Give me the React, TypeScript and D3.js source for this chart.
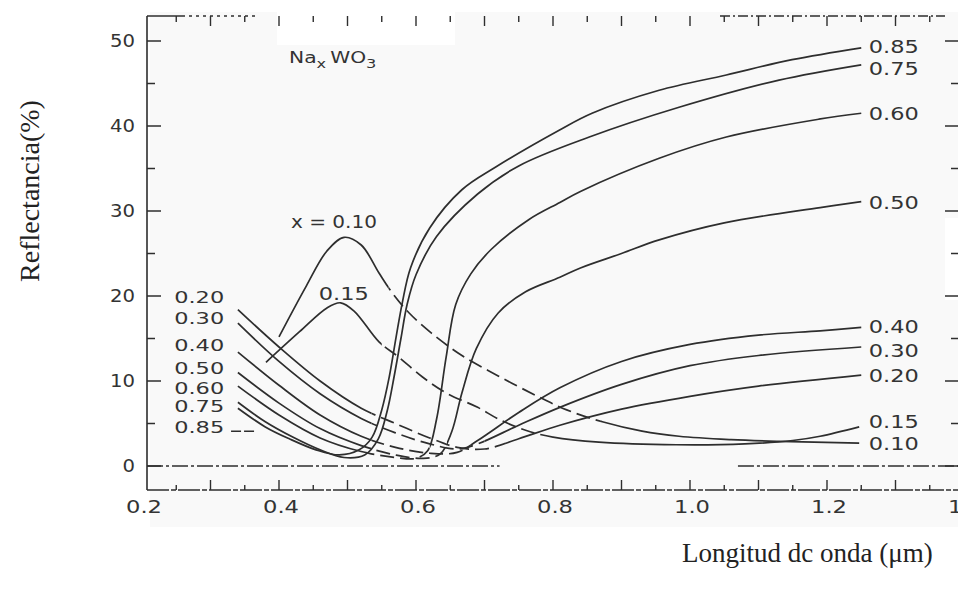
import React, { useEffect } from 'react';
import * as d3 from 'd3';

const W = 958;
const H = 595;

// ---- axis ticks / labels ----
const xTickLabels = [0.2, 0.4, 0.6, 0.8, 1.0, 1.2, 1.4];
const yTickLabels = [0, 10, 20, 30, 40, 50];
const xTitle = 'Longitud dc onda (\u03bcm)';
const yTitle = 'Reflectancia(%)';

// ---- series data: [wavelength µm, reflectance %] ----
const s010: [number, number][] = [[0.40, 15.2], [0.44, 21.2], [0.47, 25.3], [0.495, 26.9], [0.52, 26.0], [0.546, 22.7], [0.565, 20.4], [0.59, 18.0], [0.623, 15.6], [0.667, 13.0], [0.72, 10.6], [0.775, 8.3], [0.82, 6.6], [0.872, 5.2], [0.93, 4.1], [0.984, 3.5], [1.06, 3.1], [1.13, 2.9], [1.247, 2.7]];
const s015: [number, number][] = [[0.381, 12.2], [0.43, 15.8], [0.47, 18.6], [0.49, 19.2], [0.51, 18.2], [0.546, 14.6], [0.575, 12.8], [0.609, 10.5], [0.644, 8.6], [0.69, 6.9], [0.721, 5.5], [0.76, 4.2], [0.8, 3.4], [0.867, 2.8], [0.98, 2.5], [1.08, 2.6], [1.15, 3.0], [1.19, 3.5], [1.247, 4.6]];
const s020: [number, number][] = [[0.34, 18.4], [0.40, 14.0], [0.46, 10.0], [0.52, 6.8], [0.57, 5.0], [0.62, 3.3], [0.66, 2.2], [0.70, 2.0], [0.75, 3.2], [0.81, 4.8], [0.9, 6.7], [1.0, 8.2], [1.1, 9.4], [1.25, 10.7]];
const s030: [number, number][] = [[0.34, 16.8], [0.40, 12.3], [0.46, 8.5], [0.52, 5.6], [0.57, 3.9], [0.62, 2.6], [0.66, 2.0], [0.69, 2.6], [0.75, 4.8], [0.81, 6.9], [0.9, 9.6], [1.0, 11.8], [1.1, 13.0], [1.25, 14.0]];
const s040: [number, number][] = [[0.34, 13.4], [0.40, 9.5], [0.46, 6.0], [0.52, 3.5], [0.57, 2.2], [0.62, 1.5], [0.66, 1.6], [0.69, 3.0], [0.75, 6.3], [0.81, 9.2], [0.9, 12.3], [1.0, 14.3], [1.1, 15.4], [1.19, 15.9], [1.25, 16.3]];
const s050: [number, number][] = [[0.34, 11.0], [0.40, 7.4], [0.46, 4.4], [0.52, 2.4], [0.57, 1.3], [0.61, 0.9], [0.635, 1.4], [0.652, 4.0], [0.667, 8.6], [0.688, 13.8], [0.72, 18.0], [0.76, 20.5], [0.81, 22.2], [0.84, 23.3], [0.9, 25.0], [0.955, 26.6], [1.05, 28.6], [1.19, 30.4], [1.25, 31.1]];
const s060: [number, number][] = [[0.34, 9.4], [0.40, 6.0], [0.46, 3.3], [0.52, 1.7], [0.57, 1.0], [0.60, 0.9], [0.617, 1.8], [0.63, 5.5], [0.644, 12.8], [0.658, 19.0], [0.68, 22.6], [0.71, 25.5], [0.765, 29.0], [0.81, 31.0], [0.84, 32.3], [0.955, 36.2], [1.053, 38.7], [1.188, 40.8], [1.25, 41.5]];
const s075: [number, number][] = [[0.34, 7.5], [0.38, 5.2], [0.42, 3.4], [0.46, 1.9], [0.495, 1.0], [0.525, 1.3], [0.545, 3.2], [0.558, 6.5], [0.568, 10.5], [0.578, 15.0], [0.587, 19.0], [0.6, 22.5], [0.63, 27.0], [0.69, 32.0], [0.75, 35.3], [0.853, 38.7], [0.984, 42.2], [1.13, 45.4], [1.25, 47.2]];
const s085: [number, number][] = [[0.34, 6.8], [0.38, 4.6], [0.415, 3.2], [0.454, 1.9], [0.488, 1.3], [0.517, 1.9], [0.536, 3.4], [0.55, 6.6], [0.561, 10.5], [0.571, 15.2], [0.58, 19.2], [0.592, 23.3], [0.62, 28.0], [0.667, 32.5], [0.717, 35.2], [0.809, 39.5], [0.857, 41.5], [0.955, 44.2], [1.053, 46.0], [1.149, 47.8], [1.25, 49.2]];

const seriesNames = ['0.10', '0.15', '0.20', '0.30', '0.40', '0.50', '0.60', '0.75', '0.85'];
const seriesData = [s010, s015, s020, s030, s040, s050, s060, s075, s085];
// wavelength span (µm) where each curve is drawn dashed
const dashSpans: ([number, number] | null)[] = [[0.56, 0.87], [0.55, 0.80], [0.535, 0.73], [0.535, 0.70], [0.535, 0.68], [0.535, 0.645], [0.53, 0.62], null, null];

// ---- annotation labels: [text, %] and positions in µm ----
const rightLabels: [string, number][] = [['0.85', 49.35], ['0.75', 46.8], ['0.60', 41.5], ['0.50', 31.0], ['0.40', 16.4], ['0.30', 13.6], ['0.20', 10.7], ['0.15', 5.2], ['0.10', 2.6]];
const leftLabels: [string, number][] = [['0.20', 19.9], ['0.30', 17.4], ['0.40', 14.2], ['0.50', 11.5], ['0.60', 9.2], ['0.75', 7.0], ['0.85', 4.6]];
const rightLabelX = 1.261;
const leftLabelX = 0.247;
const peakLabels: [string, number, number][] = [['x = 0.10', 0.4175, 28.8], ['0.15', 0.458, 20.3]];
const pointerDash: [number, number][] = [[0.33, 4.1], [0.366, 4.1]];
const compoundPos: [number, number] = [0.4146, 48.1];

const FR = { left: 147, top: 16, bottom: 490, right: 958 };
const INK = '#2e2e2e';
const TXT = '#333';

function labelWidth(s: string, digit = 14, dot = 8, space = 6, other = 12) {
  let w = 0;
  for (const c of s) {
    if (c >= '0' && c <= '9') w += digit;
    else if (c === '.') w += dot;
    else if (c === ' ') w += space;
    else w += other;
  }
  return w;
}

export default function App() {
  useEffect(() => {
    document.body.style.margin = '0';
    document.body.style.background = '#fff';
  }, []);

  const xS = d3.scaleLinear().domain([0.2, 1.4]).range([142, 964]);
  const yS = d3.scaleLinear().domain([0, 50]).range([466, 41]);
  const line = d3
    .line<[number, number]>()
    .x((d) => xS(d[0]))
    .y((d) => yS(d[1]))
    .curve(d3.curveCatmullRom.alpha(0.5));

  const minorX = d3.range(0.25, 1.401, 0.05);
  const minorY = d3.range(0, 50.01, 5);
  const isMajorX = (v: number) => Math.abs(Math.round(v * 10) - v * 10) < 1e-6;
  const isMajorY = (v: number) => Math.round(v) % 10 === 0;

  const sans = '"DejaVu Sans", "Liberation Sans", sans-serif';
  const serif = '"Liberation Serif", "DejaVu Serif", serif';

  return (
    <svg width={W} height={H} style={{ position: 'absolute', left: 0, top: 0, display: 'block' }} xmlns="http://www.w3.org/2000/svg">
      <rect x={0} y={0} width={W} height={H} fill="#ffffff" />
      {/* scanned area tint */}
      <rect x={150} y={12} width={W - 150} height={515} fill="#f9f9f9" />
      <rect x={277} y={0} width={178} height={45} fill="#ffffff" />
      <rect x={945} y={218} width={13} height={82} fill="#ffffff" />

      <defs>
        {seriesNames.map((n, i) => {
          const sp = dashSpans[i];
          if (!sp) return null;
          return (
            <g key={n}>
              <clipPath id={`solid-${i}`}>
                <rect x={0} y={0} width={xS(sp[0])} height={H} />
                <rect x={xS(sp[1])} y={0} width={W - xS(sp[1])} height={H} />
              </clipPath>
              <clipPath id={`dash-${i}`}>
                <rect x={xS(sp[0])} y={0} width={xS(sp[1]) - xS(sp[0])} height={H} />
              </clipPath>
            </g>
          );
        })}
      </defs>

      {/* frame: left axis */}
      <line x1={FR.left} x2={FR.left} y1={FR.top} y2={FR.bottom} stroke={INK} strokeWidth={1.6} />
      {/* bottom axis */}
      <line x1={FR.left} x2={FR.right} y1={FR.bottom} y2={FR.bottom} stroke={INK} strokeWidth={1.4} strokeDasharray="22 2 5 2" />
      {/* top axis (broken scan) */}
      <line x1={FR.left} x2={182} y1={FR.top} y2={FR.top} stroke={INK} strokeWidth={1.6} />
      <line x1={182} x2={255} y1={FR.top} y2={FR.top} stroke={INK} strokeWidth={1.3} strokeDasharray="3 4" />
      <line x1={720} x2={945} y1={FR.top} y2={FR.top} stroke={INK} strokeWidth={1.3} strokeDasharray="10 3 2 3" />

      {/* x ticks bottom and top */}
      {minorX.map((v) => {
        const maj = isMajorX(v);
        const x = xS(v);
        return (
          <g key={`xt${v}`} stroke={INK} strokeWidth={1.4}>
            <line x1={x} x2={x} y1={FR.bottom} y2={FR.bottom - (maj ? 10 : 5)} />
            {x < FR.right - 4 && <line x1={x} x2={x} y1={FR.top} y2={FR.top + (maj ? 10 : 6)} />}
          </g>
        );
      })}
      {/* y ticks left and right */}
      {minorY.map((v) => {
        const maj = isMajorY(v);
        const y = yS(v);
        return (
          <g key={`yt${v}`} stroke={INK} strokeWidth={1.5}>
            <line x1={FR.left} x2={FR.left + (maj ? 14 : 8)} y1={y} y2={y} />
            <line x1={FR.right} x2={FR.right - (maj ? 13 : 7)} y1={y} y2={y} />
          </g>
        );
      })}

      {/* zero reference line */}
      <line x1={FR.left} x2={xS(0.722)} y1={yS(0)} y2={yS(0)} stroke={INK} strokeWidth={1.3} strokeDasharray="16 3 3 3" />
      <line x1={xS(1.07)} x2={FR.right} y1={yS(0)} y2={yS(0)} stroke={INK} strokeWidth={1.3} strokeDasharray="16 3 3 3" />

      {/* tick labels */}
      {xTickLabels.map((v) => {
        const s = v.toFixed(1);
        return (
          <text key={`xl${v}`} x={xS(v) + 2} y={507} dy="0.36em" textAnchor="middle" fontFamily={sans} fontSize={18} fill={TXT} textLength={labelWidth(s)} lengthAdjust="spacingAndGlyphs">
            {s}
          </text>
        );
      })}
      {yTickLabels.map((v) => {
        const s = String(v);
        return (
          <text key={`yl${v}`} x={135} y={yS(v)} dy="0.36em" textAnchor="end" fontFamily={sans} fontSize={17} fill={TXT} textLength={labelWidth(s, 12.5)} lengthAdjust="spacingAndGlyphs">
            {s}
          </text>
        );
      })}

      {/* curves */}
      {seriesNames.map((n, i) => {
        const d = line(seriesData[i]) || '';
        const sp = dashSpans[i];
        if (!sp) {
          return <path key={n} d={d} fill="none" stroke={INK} strokeWidth={1.7} />;
        }
        return (
          <g key={n}>
            <path d={d} fill="none" stroke={INK} strokeWidth={1.7} clipPath={`url(#solid-${i})`} />
            <path d={d} fill="none" stroke={INK} strokeWidth={1.7} strokeDasharray="14 6" clipPath={`url(#dash-${i})`} />
          </g>
        );
      })}

      {/* pointer dash for left 0.85 label */}
      <line x1={xS(pointerDash[0][0])} x2={xS(pointerDash[1][0])} y1={yS(pointerDash[0][1])} y2={yS(pointerDash[1][1])} stroke={INK} strokeWidth={1.5} strokeDasharray="10 3" />

      {/* curve labels */}
      {rightLabels.map(([s, v]) => (
        <text key={`r${s}`} x={xS(rightLabelX)} y={yS(v)} dy="0.36em" fontFamily={sans} fontSize={18} fill={TXT} textLength={labelWidth(s)} lengthAdjust="spacingAndGlyphs">
          {s}
        </text>
      ))}
      {leftLabels.map(([s, v]) => (
        <text key={`l${s}`} x={xS(leftLabelX)} y={yS(v)} dy="0.35em" fontFamily={sans} fontSize={16.5} fill={TXT} textLength={labelWidth(s)} lengthAdjust="spacingAndGlyphs">
          {s}
        </text>
      ))}
      {peakLabels.map(([s, u, v]) => (
        <text key={`p${s}`} x={xS(u)} y={yS(v)} dy="0.36em" fontFamily={sans} fontSize={18} fill={TXT} textLength={labelWidth(s)} lengthAdjust="spacingAndGlyphs">
          {s}
        </text>
      ))}

      {/* compound label */}
      <g transform={`translate(${xS(compoundPos[0])},${yS(compoundPos[1])}) scale(1.35,1)`}>
        <text x={0} y={0} dy="0.36em" fontFamily={sans} fontSize={15} fill={TXT}>
          Na
          <tspan dy="5" fontSize={12}>x</tspan>
          <tspan dy="-5" dx="3">WO</tspan>
          <tspan dy="5" fontSize={12}>3</tspan>
        </text>
      </g>

      {/* axis titles */}
      <text transform="translate(39,191) rotate(-90)" textAnchor="middle" fontFamily={serif} fontSize={28} fill="#222">
        {yTitle}
      </text>
      <text x={682} y={562} fontFamily={serif} fontSize={27} fill="#222">
        {xTitle}
      </text>
    </svg>
  );
}
